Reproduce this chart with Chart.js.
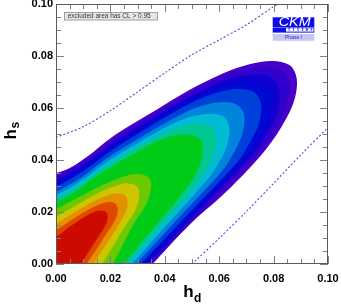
<!DOCTYPE html>
<html><head><meta charset="utf-8">
<script src="https://cdn.jsdelivr.net/npm/chart.js@4.4.1/dist/chart.umd.min.js"></script>
<style>html,body{margin:0;padding:0;background:#fff;}canvas{display:block;}</style>
</head><body>
<canvas id="c" width="341" height="304"></canvas>
<script>
// ---- axis ticks ----
const tickLabels = ['0.00','0.02','0.04','0.06','0.08','0.10'];
const majorTicks = [0, 0.02, 0.04, 0.06, 0.08, 0.10];
const minorTicks = [0.005,0.01,0.015,0.025,0.03,0.035,0.045,0.05,0.055,0.065,0.07,0.075,0.085,0.09,0.095];

// ---- CL contours (outer CL=0.05 edge to inner core), hd / hs ----
const lvl00Hd = [-0.004,0,0.0049,0.0123,0.0184,0.0245,0.0368,0.0490,0.0613,0.0711,0.0797,0.0858,0.0882,0.0885,0.0870,0.0833,0.0784,0.0711,0.0613,0.0490,0.0355,0.0318,-0.010];
const lvl00Hs = [0.0336,0.0349,0.0368,0.0419,0.0471,0.0515,0.0592,0.0669,0.0733,0.0768,0.0781,0.0765,0.0727,0.0676,0.0612,0.0535,0.0458,0.0368,0.0265,0.0150,0,-0.004,-0.010];
const lvl01Hd = [-0.004,0,0.0116,0.0232,0.0355,0.0479,0.0594,0.0687,0.0772,0.0832,0.0855,0.0858,0.0843,0.0808,0.0760,0.0553,0.0347,0.0310,-0.010];
const lvl01Hs = [0.0324,0.0336,0.0403,0.0492,0.0573,0.0649,0.0712,0.0746,0.0758,0.0744,0.0706,0.0656,0.0595,0.0519,0.0445,0.0222,0,-0.004,-0.010];
const lvl02Hd = [-0.004,0,0.0111,0.0221,0.0339,0.0457,0.0568,0.0657,0.0738,0.0795,0.0819,0.0821,0.0808,0.0773,0.0727,0.0532,0.0337,0.0300,-0.010];
const lvl02Hs = [0.0311,0.0323,0.0388,0.0473,0.0550,0.0623,0.0684,0.0717,0.0729,0.0714,0.0678,0.0630,0.0569,0.0497,0.0424,0.0212,0,-0.004,-0.010];
const lvl03Hd = [-0.004,0,0.0107,0.0213,0.0327,0.0441,0.0547,0.0633,0.0711,0.0766,0.0788,0.0790,0.0777,0.0744,0.0700,0.0512,0.0325,0.0289,-0.010];
const lvl03Hs = [0.0298,0.0310,0.0373,0.0455,0.0530,0.0601,0.0659,0.0691,0.0703,0.0688,0.0654,0.0608,0.0550,0.0481,0.0412,0.0206,0,-0.004,-0.010];
const lvl04Hd = [-0.004,0,0.0101,0.0203,0.0311,0.0419,0.0521,0.0602,0.0676,0.0730,0.0751,0.0754,0.0741,0.0708,0.0667,0.0490,0.0312,0.0276,-0.010];
const lvl04Hs = [0.0285,0.0297,0.0358,0.0436,0.0508,0.0575,0.0632,0.0662,0.0673,0.0660,0.0626,0.0582,0.0526,0.0459,0.0392,0.0196,0,-0.004,-0.010];
const lvl05Hd = [-0.004,0,0.0093,0.0186,0.0286,0.0385,0.0478,0.0553,0.0621,0.0670,0.0690,0.0692,0.0680,0.0651,0.0612,0.0453,0.0294,0.0259,-0.010];
const lvl05Hs = [0.0266,0.0278,0.0333,0.0406,0.0471,0.0533,0.0585,0.0613,0.0623,0.0610,0.0580,0.0537,0.0486,0.0423,0.0360,0.0180,0,-0.004,-0.010];
const lvl06Hd = [-0.004,0,0.0086,0.0171,0.0262,0.0353,0.0439,0.0507,0.0570,0.0616,0.0635,0.0637,0.0626,0.0598,0.0560,0.0420,0.0279,0.0245,-0.010];
const lvl06Hs = [0.0253,0.0265,0.0315,0.0381,0.0441,0.0497,0.0544,0.0569,0.0578,0.0567,0.0537,0.0497,0.0447,0.0388,0.0329,0.0165,0,-0.004,-0.010];
const lvl07Hd = [-0.004,0,0.0078,0.0157,0.0241,0.0324,0.0403,0.0466,0.0523,0.0569,0.0587,0.0588,0.0577,0.0550,0.0515,0.0389,0.0263,0.0230,-0.010];
const lvl07Hs = [0.0238,0.0250,0.0296,0.0357,0.0412,0.0463,0.0507,0.0530,0.0538,0.0527,0.0499,0.0462,0.0415,0.0359,0.0303,0.0151,0,-0.004,-0.010];
const lvl08Hd = [-0.004,0,0.0072,0.0143,0.0220,0.0296,0.0368,0.0425,0.0478,0.0521,0.0538,0.0539,0.0529,0.0504,0.0469,0.0359,0.0249,0.0217,-0.010];
const lvl08Hs = [0.0225,0.0237,0.0279,0.0334,0.0384,0.0431,0.0470,0.0491,0.0499,0.0488,0.0462,0.0427,0.0382,0.0329,0.0276,0.0138,0,-0.004,-0.010];
const lvl09Hd = [-0.004,0,0.0090,0.0186,0.0268,0.0301,0.0334,0.0348,0.0349,0.0341,0.0321,0.0294,0.0251,0.0208,0.0179,-0.010];
const lvl09Hs = [0.0199,0.0212,0.0261,0.0311,0.0342,0.0346,0.0338,0.0317,0.0288,0.0253,0.0211,0.0169,0.0085,0,-0.004,-0.010];
const lvl10Hd = [-0.004,0,0.0079,0.0163,0.0233,0.0262,0.0293,0.0305,0.0306,0.0299,0.0281,0.0256,0.0213,0.0169,0.0145,-0.010];
const lvl10Hs = [0.0170,0.0182,0.0229,0.0277,0.0306,0.0310,0.0303,0.0283,0.0258,0.0226,0.0187,0.0149,0.0074,0,-0.004,-0.010];
const lvl11Hd = [-0.004,0,0.0068,0.0141,0.0202,0.0227,0.0252,0.0262,0.0263,0.0257,0.0241,0.0222,0.0180,0.0137,0.0112,-0.010];
const lvl11Hs = [0.0143,0.0156,0.0199,0.0242,0.0268,0.0272,0.0265,0.0250,0.0228,0.0201,0.0169,0.0136,0.0068,0,-0.004,-0.010];
const lvl12Hd = [-0.004,0,0.0059,0.0122,0.0175,0.0196,0.0217,0.0225,0.0227,0.0222,0.0210,0.0192,0.0153,0.0113,0.0088,-0.010];
const lvl12Hs = [0.0117,0.0131,0.0171,0.0211,0.0235,0.0238,0.0233,0.0221,0.0203,0.0181,0.0154,0.0127,0.0063,0,-0.004,-0.010];
const lvl13Hd = [-0.004,0,0.0050,0.0103,0.0147,0.0165,0.0183,0.0189,0.0190,0.0186,0.0175,0.0162,0.0127,0.0092,0.0068,-0.010];
const lvl13Hs = [0.0090,0.0105,0.0143,0.0180,0.0203,0.0206,0.0201,0.0191,0.0177,0.0159,0.0137,0.0115,0.0058,0,-0.004,-0.010];

// ---- dotted boundaries ----
const upperBoundHd = [0,0.01,0.02,0.03,0.04,0.05,0.06,0.07,0.08,0.0815];
const upperBoundHs = [0.0487,0.0528,0.0590,0.0662,0.0735,0.0805,0.0862,0.0920,0.0990,0.1000];
const lowerBoundHd = [0.05,0.06,0.07,0.08,0.09,0.10];
const lowerBoundHs = [0,0.0099,0.0202,0.0310,0.0420,0.0525];

// ---- styles ----
const levelColors = ['#4800c8','#3000cc','#1000d0','#0008d4','#0040da','#0084dc','#00bcd2','#00c890','#00cc18','#6cc800','#cec400','#e49000','#e04800','#cc0a00'];

const levels = [
  [lvl00Hd,lvl00Hs],[lvl01Hd,lvl01Hs],[lvl02Hd,lvl02Hs],[lvl03Hd,lvl03Hs],[lvl04Hd,lvl04Hs],
  [lvl05Hd,lvl05Hs],[lvl06Hd,lvl06Hs],[lvl07Hd,lvl07Hs],[lvl08Hd,lvl08Hs],[lvl09Hd,lvl09Hs],
  [lvl10Hd,lvl10Hs],[lvl11Hd,lvl11Hs],[lvl12Hd,lvl12Hs],[lvl13Hd,lvl13Hs]
];
const toXY = (xs, ys) => xs.map((v, i) => ({x: v, y: ys[i]}));

const contourSets = levels.map(([hd, hs], i) => ({
  data: toXY(hd, hs), showLine: true, fill: 'shape',
  backgroundColor: levelColors[i], borderColor: 'rgba(0,0,0,0)', borderWidth: 0,
  pointRadius: 0, tension: 0.35
}));
const dotted = (hd, hs) => ({
  data: toXY(hd, hs), showLine: true, fill: false, borderColor: '#4a4ad8',
  borderWidth: 1.1, borderDash: [2, 2], pointRadius: 0, tension: 0.3
});
const datasets = [dotted(upperBoundHd, upperBoundHs), dotted(lowerBoundHd, lowerBoundHs), ...contourSets.slice().reverse()];

const FONT = '"Liberation Sans", Arial, Helvetica, sans-serif';

const decor = {
  id: 'decor',
  afterDatasetsDraw(chart) {
    const {ctx, chartArea: a, scales: {x, y}} = chart;
    ctx.save();
    ctx.strokeStyle = '#808080';
    ctx.lineWidth = 1;
    ctx.setLineDash([]);
    ctx.beginPath();
    const tick = (vals, len) => {
      for (const v of vals) {
        const px = Math.round(x.getPixelForValue(v)) + 0.5;
        ctx.moveTo(px, a.bottom); ctx.lineTo(px, a.bottom - len);
        ctx.moveTo(px, a.top); ctx.lineTo(px, a.top + len);
        const py = Math.round(y.getPixelForValue(v)) + 0.5;
        ctx.moveTo(a.left, py); ctx.lineTo(a.left + len, py);
        ctx.moveTo(a.right, py); ctx.lineTo(a.right - len, py);
      }
    };
    tick(majorTicks, 8);
    tick(minorTicks, 5);
    ctx.stroke();
    ctx.strokeStyle = '#5a5a5a';
    ctx.strokeRect(a.left + 0.5, a.top + 0.5, a.right - a.left - 1, a.bottom - a.top - 1);
    ctx.restore();
  },
  afterDraw(chart) {
    const {ctx} = chart;
    ctx.save();
    // legend box
    ctx.fillStyle = '#e6e6e6';
    ctx.fillRect(64.5, 12.5, 93, 7.5);
    ctx.strokeStyle = '#a0a0a0';
    ctx.lineWidth = 1;
    ctx.strokeRect(64.5, 12.5, 93, 7.5);
    const lt = 'excluded area has CL > 0.95';
    ctx.font = '10px ' + FONT;
    const fs = 10 * 83 / ctx.measureText(lt).width;
    ctx.font = fs.toFixed(2) + 'px ' + FONT;
    ctx.fillStyle = '#333';
    ctx.textBaseline = 'middle';
    ctx.textAlign = 'left';
    ctx.fillText(lt, 67.7, 16.6);

    // CKMfitter logo
    ctx.fillStyle = '#0c0ce6';
    ctx.fillRect(272.7, 17.3, 41.6, 10);
    ctx.save();
    ctx.font = 'italic 12px ' + FONT;
    const wC = ctx.measureText('CKM').width;
    ctx.translate(278.7, 25.8);
    ctx.scale(32 / wC, 1);
    ctx.fillStyle = '#ffffff';
    ctx.textBaseline = 'alphabetic';
    ctx.fillText('CKM', 0, 0);
    ctx.restore();
    ctx.fillStyle = '#0c0ce6';
    ctx.fillRect(272.7, 27.6, 41.6, 5);
    ctx.fillStyle = '#ffffff';
    ctx.fillRect(286, 28.2, 27.5, 3.4);
    ctx.fillStyle = '#0c0ce6';
    ctx.font = 'bold 5px ' + FONT;
    ctx.textBaseline = 'middle';
    ctx.textAlign = 'center';
    const ft = 'fitter';
    for (let i = 0; i < ft.length; i++) ctx.fillText(ft[i], 289 + i * 4.5, 30.1);
    ctx.fillStyle = '#c6c6f0';
    ctx.fillRect(272.7, 34, 41.6, 6.8);
    ctx.fillStyle = '#2828c8';
    ctx.font = '5px ' + FONT;
    ctx.fillText('Phase I', 293.5, 37.5);

    // axis titles
    ctx.fillStyle = '#000';
    ctx.textAlign = 'left';
    ctx.textBaseline = 'alphabetic';
    ctx.font = 'bold 17px ' + FONT;
    const wh = ctx.measureText('h').width;
    ctx.font = 'bold 12px ' + FONT;
    const wd = ctx.measureText('d').width;
    const x0 = 192 - (wh + wd) / 2;
    ctx.font = 'bold 17px ' + FONT;
    ctx.fillText('h', x0, 297);
    ctx.font = 'bold 12px ' + FONT;
    ctx.fillText('d', x0 + wh + 0.5, 302);

    ctx.save();
    ctx.translate(15.5, 139.5);
    ctx.rotate(-Math.PI / 2);
    ctx.font = 'bold 17px ' + FONT;
    ctx.fillText('h', 0, 0);
    ctx.font = 'bold 12px ' + FONT;
    ctx.fillText('s', wh + 0.5, 3);
    ctx.restore();
    ctx.restore();
  }
};

const tickFont = {family: FONT, size: 11, weight: 'bold'};

new Chart(document.getElementById('c'), {
  type: 'scatter',
  data: {datasets},
  options: {
    responsive: false,
    animation: false,
    layout: {padding: {left: 0, right: 13, top: 4, bottom: 0}},
    plugins: {legend: {display: false}, tooltip: {enabled: false}},
    elements: {point: {radius: 0}, line: {capBezierPoints: false}},
    scales: {
      x: {
        type: 'linear', min: 0, max: 0.1,
        afterFit: s => { s.height = 40; s.paddingLeft = 0; s.paddingRight = 0; },
        ticks: {stepSize: 0.02, autoSkip: false, maxRotation: 0, padding: 8, color: '#000', font: tickFont,
                callback: (v, i) => tickLabels[i]},
        grid: {display: false, drawTicks: false}, border: {display: false}
      },
      y: {
        type: 'linear', min: 0, max: 0.1,
        afterFit: s => { s.width = 56; s.paddingTop = 0; s.paddingBottom = 0; },
        ticks: {stepSize: 0.02, autoSkip: false, padding: 3, color: '#000', font: tickFont,
                callback: (v, i) => tickLabels[i]},
        grid: {display: false, drawTicks: false}, border: {display: false}
      }
    }
  },
  plugins: [decor]
});
</script>
</body></html>
